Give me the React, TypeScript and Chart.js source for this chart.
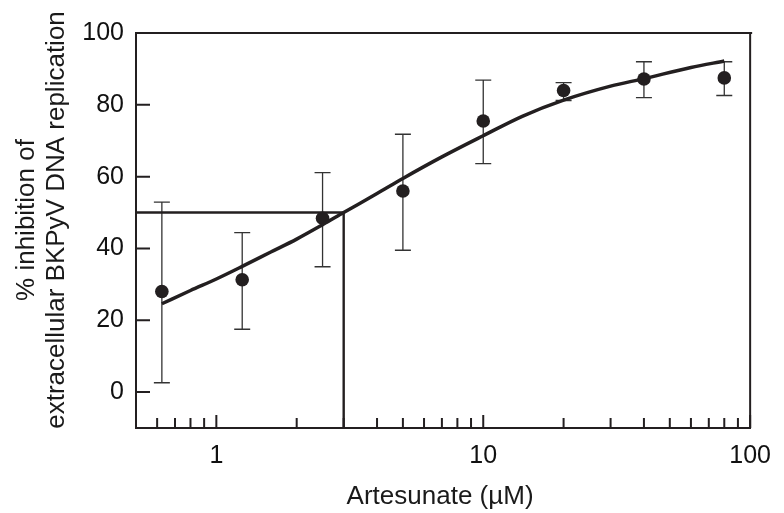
import React, { useEffect, useRef } from "react";
import { Chart, registerables } from "chart.js";

Chart.register(...registerables);

// Measured data (Artesunate concentration, µM)
const doses = [0.625, 1.25, 2.5, 5, 10, 20, 40, 80];
const meanInhibition = [28, 31.3, 48.4, 56, 75.5, 84, 87.2, 87.5];
const errUpper = [52.9, 44.4, 61.1, 71.8, 86.9, 86.2, 92, 92];
const errLower = [2.6, 17.5, 34.9, 39.5, 63.6, 81.2, 82, 82.6];

// Fitted dose-response curve
const fitX = [0.625, 0.8, 1, 1.25, 1.6, 2, 2.5, 3, 4, 5, 7, 10, 14, 20, 30, 40, 60, 80];
const fitY = [24.6, 28.3, 31.5, 35, 39, 42.6, 46.6, 50, 55.3, 59.5, 65.5, 71.4, 76.8, 81.3, 85.2, 87.3, 90.4, 92.2];

// IC50 guide lines
const ic50 = 3;
const halfInhibition = 50;

// Axis settings
const xMin = 0.5;
const xMax = 100;
const yMin = -10;
const yMax = 100;
const xMajorTicks = [1, 10, 100];
const xMinorTicks = [0.5, 0.6, 0.7, 0.8, 0.9, 2, 3, 4, 5, 6, 7, 8, 9, 20, 30, 40, 50, 60, 70, 80, 90];
const yTicks = [0, 20, 40, 60, 80, 100];

const xTitle = "Artesunate (µM)";
const yTitleLines = ["% inhibition of", "extracellular BKPyV DNA replication"];

const INK = "#231f20";
const FONT = "'Liberation Sans', Arial, sans-serif";

const decorPlugin = {
  id: "decor",
  beforeDatasetsDraw(chart: any) {
    const { ctx, scales } = chart;
    const xs = scales.x;
    const ys = scales.y;
    ctx.save();
    ctx.strokeStyle = "#333";
    ctx.lineWidth = 1.3;
    doses.forEach((d, i) => {
      const px = xs.getPixelForValue(d);
      const top = ys.getPixelForValue(errUpper[i]);
      const bot = ys.getPixelForValue(errLower[i]);
      ctx.beginPath();
      ctx.moveTo(px, top);
      ctx.lineTo(px, bot);
      ctx.moveTo(px - 8, top);
      ctx.lineTo(px + 8, top);
      ctx.moveTo(px - 8, bot);
      ctx.lineTo(px + 8, bot);
      ctx.stroke();
    });
    ctx.restore();
  },
  afterDraw(chart: any) {
    const { ctx, scales, chartArea } = chart;
    const xs = scales.x;
    const ys = scales.y;
    const { left, right, top, bottom } = chartArea;
    ctx.save();
    ctx.strokeStyle = INK;
    ctx.lineWidth = 2;
    // top and right frame
    ctx.beginPath();
    ctx.moveTo(left, top);
    ctx.lineTo(right + 2, top);
    ctx.moveTo(right, top);
    ctx.lineTo(right, bottom);
    ctx.stroke();
    // inward ticks
    ctx.lineWidth = 2;
    ctx.beginPath();
    yTicks.forEach((v) => {
      const py = ys.getPixelForValue(v);
      ctx.moveTo(left, py);
      ctx.lineTo(left + 14, py);
    });
    xMajorTicks.forEach((v) => {
      const px = xs.getPixelForValue(v);
      ctx.moveTo(px, bottom);
      ctx.lineTo(px, bottom - 13);
    });
    xMinorTicks.forEach((v) => {
      const px = xs.getPixelForValue(v);
      ctx.moveTo(px, bottom);
      ctx.lineTo(px, bottom - 10);
    });
    ctx.stroke();
    // titles
    ctx.fillStyle = "#1a1a1a";
    ctx.font = `26px ${FONT}`;
    ctx.textAlign = "center";
    ctx.textBaseline = "middle";
    ctx.fillText(xTitle, (left + right) / 2 - 3, 497);
    ctx.translate(27, 220);
    ctx.rotate(-Math.PI / 2);
    yTitleLines.forEach((line, i) => {
      ctx.fillText(line, 0, i * 30);
    });
    ctx.restore();
  },
};

export default function App() {
  const ref = useRef<HTMLCanvasElement>(null);
  useEffect(() => {
    if (!ref.current) return;
    const chart = new Chart(ref.current, {
      type: "scatter",
      data: {
        datasets: [
          {
            label: "IC50",
            data: [
              { x: xMin, y: halfInhibition },
              { x: ic50, y: halfInhibition },
              { x: ic50, y: yMin },
            ],
            showLine: true,
            borderColor: INK,
            borderWidth: 2.4,
            pointRadius: 0,
            tension: 0,
          },
          {
            label: "Fit",
            data: fitX.map((x, i) => ({ x, y: fitY[i] })),
            showLine: true,
            borderColor: INK,
            borderWidth: 3.5,
            pointRadius: 0,
            cubicInterpolationMode: "monotone",
          },
          {
            label: "Mean",
            data: doses.map((x, i) => ({ x, y: meanInhibition[i] })),
            showLine: false,
            backgroundColor: INK,
            borderColor: INK,
            pointRadius: 6.8,
            pointBorderWidth: 0,
          },
        ],
      },
      options: {
        animation: false,
        responsive: false,
        plugins: { legend: { display: false }, tooltip: { enabled: false } },
        layout: { padding: { top: 33, right: 29, left: 0, bottom: 0 } },
        scales: {
          x: {
            type: "logarithmic",
            min: xMin,
            max: xMax,
            afterBuildTicks: (s: any) => {
              s.ticks = xMajorTicks.map((v) => ({ value: v, major: true }));
            },
            afterFit: (s: any) => {
              s.height = 85;
            },
            ticks: {
              autoSkip: false,
              maxRotation: 0,
              padding: 13,
              color: "#111",
              font: { family: FONT, size: 25 },
              callback: (v: any) => String(v),
            },
            grid: { display: false, drawTicks: false },
            border: { display: true, color: INK, width: 2 },
          },
          y: {
            min: yMin,
            max: yMax,
            afterBuildTicks: (s: any) => {
              s.ticks = yTicks.map((v) => ({ value: v }));
            },
            afterFit: (s: any) => {
              s.width = 136;
            },
            ticks: {
              padding: 12,
              color: "#111",
              font: { family: FONT, size: 25 },
              callback: (v: any) => String(v),
            },
            grid: { display: false, drawTicks: false },
            border: { display: true, color: INK, width: 2 },
          },
        },
      },
      plugins: [decorPlugin],
    });
    return () => chart.destroy();
  }, []);
  return (
    <div style={{ position: "fixed", left: 0, top: 0, width: 784, height: 513, background: "#fff" }}>
      <canvas ref={ref} width={784} height={513} style={{ display: "block" }} />
    </div>
  );
}
